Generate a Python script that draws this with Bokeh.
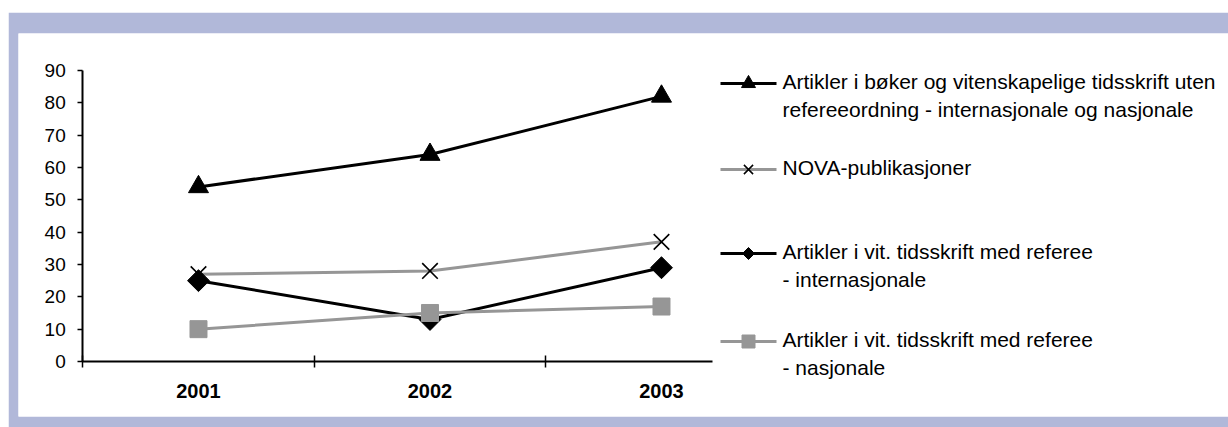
import numpy as np
from bokeh.plotting import figure
from bokeh.models import Range1d, FixedTicker, Label
from bokeh.embed import file_html
from bokeh.resources import INLINE

# ---------------- data ----------------
years = ["2001", "2002", "2003"]
x_idx = [1, 2, 3]
y_ticks = [0, 10, 20, 30, 40, 50, 60, 70, 80, 90]

legend_lines = [
    ["Artikler i bøker og vitenskapelige tidsskrift uten",
     "refereeordning - internasjonale og nasjonale"],
    ["NOVA-publikasjoner"],
    ["Artikler i vit. tidsskrift med referee", "- internasjonale"],
    ["Artikler i vit. tidsskrift med referee", "- nasjonale"],
]
art_boker = [54, 64, 82]      # triangle, black
nova_pub = [27, 28, 37]       # x, gray
vit_int = [25, 13, 29]        # diamond, black
vit_nas = [10, 15, 17]        # square, gray

# ---------------- style ----------------
BLACK = "#000000"
GRAY = "#969696"
LAV = "#B1B8D9"
FONT = "Liberation Sans"

W, H = 1220, 415
p = figure(width=W, height=H, output_backend="svg", toolbar_location=None,
           x_range=Range1d(0.2225, 5.4493), y_range=Range1d(-17.01, 101.44),
           min_border_left=10, min_border_right=0, min_border_top=21,
           min_border_bottom=11, outline_line_color=None,
           background_fill_color="white", border_fill_color=LAV)
p.margin = (12, 0, 0, 8)
p.grid.visible = False

# pixel-like helper ranges for the legend
p.extra_x_ranges = {"px": Range1d(18, 1228)}
p.extra_y_ranges = {"py": Range1d(416, 33)}

# x axis
xa = p.xaxis[0]
xa.fixed_location = 0
xa.ticker = FixedTicker(ticks=x_idx, minor_ticks=[0.5, 1.5, 2.5])
xa.major_label_overrides = {i: y for i, y in zip(x_idx, years)}
xa.bounds = (0.5, 3.22)
xa.axis_line_color = BLACK
xa.axis_line_width = 2
xa.major_tick_in = 0
xa.major_tick_out = 0
xa.minor_tick_in = 6
xa.minor_tick_out = 6
xa.minor_tick_line_color = BLACK
xa.minor_tick_line_width = 1.5
xa.major_label_standoff = 17
xa.major_label_text_font = FONT
xa.major_label_text_font_style = "bold"
xa.major_label_text_font_size = "20px"
xa.major_label_text_color = BLACK

# y axis
ya = p.yaxis[0]
ya.fixed_location = 0.5
ya.ticker = FixedTicker(ticks=y_ticks)
ya.bounds = (0, 90)
ya.axis_line_color = BLACK
ya.axis_line_width = 2
ya.major_tick_in = 0
ya.major_tick_out = 5
ya.major_tick_line_color = BLACK
ya.major_tick_line_width = 1.5
ya.minor_tick_in = 0
ya.minor_tick_out = 0
ya.major_label_standoff = 12
ya.major_label_text_font = FONT
ya.major_label_text_font_size = "19px"
ya.major_label_text_color = BLACK

# series
series = [
    (art_boker, BLACK, dict(marker="triangle", size=20, fill_color=BLACK, line_color=BLACK), dict(marker="triangle", size=14, fill_color=BLACK, line_color=BLACK)),
    (nova_pub, GRAY, dict(marker="x", size=22, line_color=BLACK, line_width=1.6), dict(marker="x", size=13, line_color=BLACK, line_width=1.5)),
    (vit_int, BLACK, dict(marker="square", size=15.5, angle=np.pi / 4, fill_color=BLACK, line_color=BLACK), dict(marker="square", size=8.5, angle=np.pi / 4, fill_color=BLACK, line_color=BLACK)),
    (vit_nas, GRAY, dict(marker="square", size=17, fill_color=GRAY, line_color=GRAY), dict(marker="square", size=13, fill_color=GRAY, line_color=GRAY)),
]
for vals, col, mk, _ in series:
    p.line(x_idx, vals, line_color=col, line_width=3)
    p.scatter(x_idx, vals, **mk)

# legend (manual)
leg_y = [83, 169, 253, 341]
for (vals, col, _, lmk), ly, lines in zip(series, leg_y, legend_lines):
    p.line([720, 776], [ly, ly], line_color=col, line_width=3,
           x_range_name="px", y_range_name="py")
    p.scatter([748], [ly], x_range_name="px", y_range_name="py", **lmk)
    for k, txt in enumerate(lines):
        p.add_layout(Label(x=782, y=ly - 2 + 28 * k, text=txt,
                           x_range_name="px", y_range_name="py",
                           text_font=FONT, text_font_size="21px",
                           text_color=BLACK, text_baseline="middle",
                           text_align="left"))

open("out.html", "w").write(file_html(p, INLINE))
